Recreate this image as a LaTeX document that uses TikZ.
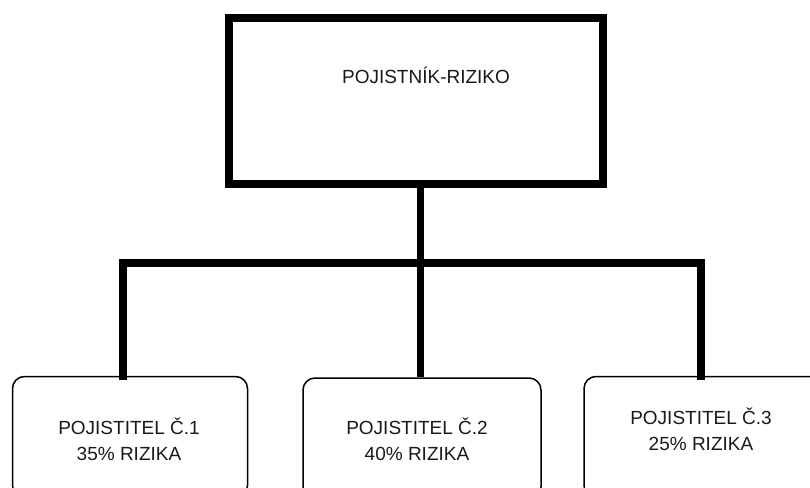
\documentclass[tikz,border=0pt]{standalone}
\usepackage{fontspec}
\setmainfont{Liberation Sans}
\begin{document}
\begin{tikzpicture}[x=1pt,y=-1pt,
  headbox/.style={draw=black,line width=8pt,rectangle,inner sep=0pt,
    minimum width=374pt,minimum height=166pt},
  sharebox/.style={draw=black,line width=1.5pt,rectangle,rounded corners=12pt,
    inner sep=0pt,minimum height=121pt},
  label/.style={font=\fontsize{19}{26}\selectfont,text=black!90,align=center,inner sep=0pt},
  trunk/.style={line width=8pt,line cap=rect,line join=miter}]
\useasboundingbox (0,0) rectangle (810,487);
\clip (0,0) rectangle (810,487);

% main policy holder box
\node[headbox] (top) at (416,101) {};
\node[label] (toptext) at (426,75) {POJISTNÍK-RIZIKO};

% insurers' boxes (their lower parts run off the page)
\node[sharebox,minimum width=235pt] (b1) at (130,437) {};
\node[sharebox,minimum width=238pt] (b2) at (422,438.5) {};
\node[sharebox,minimum width=246pt] (b3) at (707,437) {};

\node[label] (t1) at (129,439) {POJISTITEL Č.1\\35\% RIZIKA};
\node[label] (t2) at (417,439) {POJISTITEL Č.2\\40\% RIZIKA};
\node[label] (t3) at (701,429) {POJISTITEL Č.3\\25\% RIZIKA};

% junction points of the distribution bar
\coordinate (j1) at (122.5,262.5);
\coordinate (j2) at (420,262.5);
\coordinate (j3) at (701,262.5);

% connectors
\draw[line width=7pt] (top.south -| j2) -- (b2.north -| j2);
\draw[trunk] (b1.north -| j1) -- (j1) -- (j3) -- (b3.north -| j3);
\end{tikzpicture}
\end{document}
